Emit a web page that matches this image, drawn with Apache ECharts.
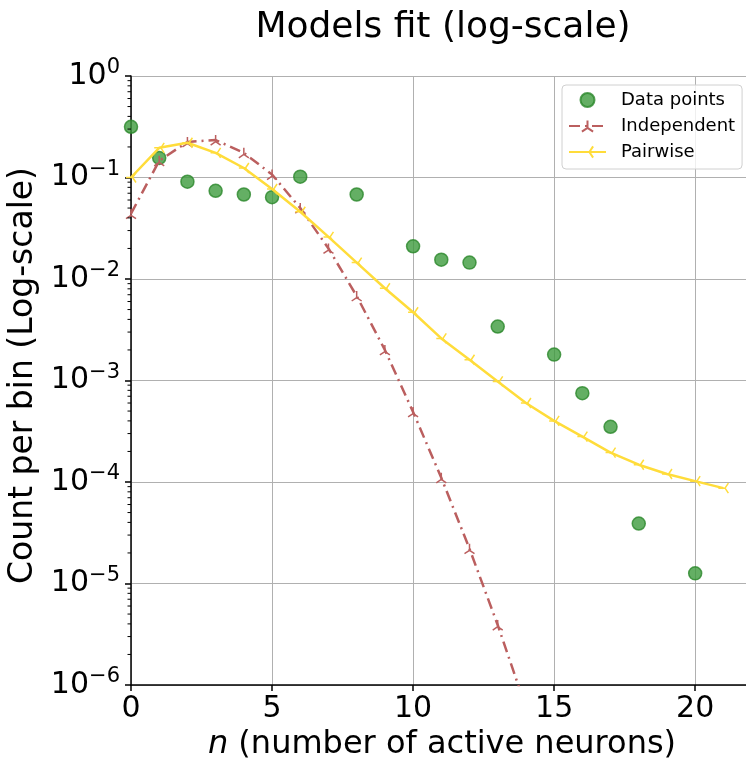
<!DOCTYPE html>
<html>
<head>
<meta charset="utf-8">
<script src="https://cdn.jsdelivr.net/npm/echarts@6/dist/echarts.min.js"></script>
<style>
  html, body { margin: 0; padding: 0; background: #fff; }
  #chart { width: 746px; height: 761px; }
</style>
</head>
<body>
<div id="chart"></div>
<script>
// n = number of active neurons
var dataX = [0, 1, 2, 3, 4, 5, 6, 8, 10, 11, 12, 13, 15, 16, 17, 18, 20];
var dataY = [0.316, 0.156, 0.091, 0.074, 0.068, 0.064, 0.102, 0.068, 0.021, 0.0155, 0.0145,
             0.0034, 0.0018, 0.00075, 0.00035, 0.000039, 0.0000126];

var indepX = [0, 1, 2, 3, 4, 5, 6, 7, 8, 9, 10, 11, 12, 13, 14, 15];
var indepY = [0.044, 0.146, 0.224, 0.234, 0.175, 0.107, 0.050, 0.020, 0.0068, 0.0020,
              0.00049, 0.00011, 0.000022, 0.0000039, 0.0000006, 0.00000008];

var pairX = [0, 1, 2, 3, 4, 5, 6, 7, 8, 9, 10, 11, 12, 13, 14, 15, 16, 17, 18, 19, 20, 21];
var pairY = [0.10, 0.196, 0.22, 0.175, 0.124, 0.077, 0.046, 0.026, 0.0145, 0.0081, 0.0047,
             0.0026, 0.0016, 0.00098, 0.0006, 0.0004, 0.00028, 0.000195, 0.000148, 0.00012,
             0.000102, 0.000087];

// minor tick positions for the log axis (2..9 x 10^k)
var minorTicks = [];
for (var e = -6; e < 0; e++) {
    for (var k = 2; k <= 9; k++) minorTicks.push([0, k * Math.pow(10, e)]);
}

function zip(xs, ys) {
    return xs.map(function (x, i) { return [x, ys[i]]; });
}

var triUp = 'path://M0,0 L0,-10 M0,0 L8.66,5 M0,0 L-8.66,5';
var triLeft = 'path://M0,0 L-10,0 M0,0 L5,-8.66 M0,0 L5,8.66';

var chart = echarts.init(document.getElementById('chart'));

var option = {
    backgroundColor: '#fff',
    animation: false,
    title: {
        text: 'Models fit (log-scale)',
        left: 438, textAlign: 'center',
        top: 5,
        textStyle: { fontFamily: 'DejaVu Sans', fontSize: 36, fontWeight: 'normal', color: '#000' }
    },
    legend: {
        left: 562, top: 85,
        orient: 'vertical',
        align: 'left',
        backgroundColor: 'rgba(255,255,255,0.8)',
        borderColor: '#d0d0d0', borderWidth: 1, borderRadius: 4,
        padding: [6, 7, 8, 6],
        itemWidth: 37, itemHeight: 14, itemGap: 8,
        textStyle: { fontFamily: 'DejaVu Sans', fontSize: 18, color: '#000', padding: [0, 0, 0, 10] },
        data: [
            { name: 'Data points', icon: 'circle' },
            { name: 'Independent' },
            { name: 'Pairwise' }
        ]
    },
    grid: { left: 131, right: -7, top: 76, bottom: 76, containLabel: false, outerBoundsMode: 'none' },
    xAxis: {
        type: 'value',
        min: 0, max: 22.05, interval: 5,
        name: '{i|n} (number of active neurons)',
        nameLocation: 'middle', nameGap: 40,
        nameTextStyle: {
            fontFamily: 'DejaVu Sans', fontSize: 32, color: '#000',
            rich: { i: { fontFamily: 'DejaVu Sans', fontSize: 32, fontStyle: 'italic', color: '#000' } }
        },
        axisLine: { lineStyle: { color: '#000', width: 1.5 } },
        axisTick: { length: 6, lineStyle: { color: '#000', width: 1.5 } },
        axisLabel: {
            showMaxLabel: false, margin: 9,
            fontFamily: 'DejaVu Sans', fontSize: 30, color: '#000'
        },
        splitLine: { show: true, lineStyle: { color: '#b0b0b0', width: 1 } }
    },
    yAxis: {
        type: 'log', logBase: 10,
        min: 1e-6, max: 1,
        name: 'Count per bin (Log-scale)',
        nameLocation: 'middle', nameGap: 89,
        nameTextStyle: { fontFamily: 'DejaVu Sans', fontSize: 33, color: '#000', padding: [0, 0, 0, 10] },
        axisLine: { show: true, lineStyle: { color: '#000', width: 1.5 } },
        axisTick: { length: 6, lineStyle: { color: '#000', width: 1.5 } },
        axisLabel: {
            margin: 11,
            formatter: function (v) {
                var ex = Math.round(Math.log10(v));
                return '{b|10}{s|' + (ex < 0 ? '−' + (-ex) : ex) + '}';
            },
            rich: {
                b: { fontFamily: 'DejaVu Sans', fontSize: 30, color: '#000' },
                s: { fontFamily: 'DejaVu Sans', fontSize: 21, color: '#000', padding: [0, 0, 16, 0] }
            }
        },
        splitLine: { show: true, lineStyle: { color: '#b0b0b0', width: 1 } }
    },
    series: [
        {
            name: 'Data points',
            type: 'scatter',
            data: zip(dataX, dataY),
            symbolSize: 13,
            itemStyle: { color: '#3d9b3d', borderColor: '#2a872a', borderWidth: 1.5 },
            z: 3
        },
        {
            name: 'Independent',
            type: 'line',
            data: zip(indepX, indepY),
            symbol: triUp, symbolSize: 10,
            lineStyle: { color: '#bb5f5f', width: 2.5, type: [11, 5, 2, 5] },
            itemStyle: { color: '#bb5f5f', borderColor: '#bb5f5f', borderWidth: 1.5 },
            z: 4
        },
        {
            name: 'Pairwise',
            type: 'line',
            data: zip(pairX, pairY),
            symbol: triLeft, symbolSize: 10,
            lineStyle: { color: '#ffdc3a', width: 2.5 },
            itemStyle: { color: '#ffdc3a', borderColor: '#ffdc3a', borderWidth: 1.5 },
            z: 5
        },
        {
            type: 'custom',
            silent: true,
            clip: false,
            data: minorTicks,
            renderItem: function (params, api) {
                var p = api.coord([0, api.value(1)]);
                return {
                    type: 'line',
                    shape: { x1: p[0] - 3.5, y1: p[1], x2: p[0], y2: p[1] },
                    style: { stroke: '#000', lineWidth: 1 }
                };
            },
            z: 6
        }
    ]
};

chart.setOption(option);
</script>
</body>
</html>
